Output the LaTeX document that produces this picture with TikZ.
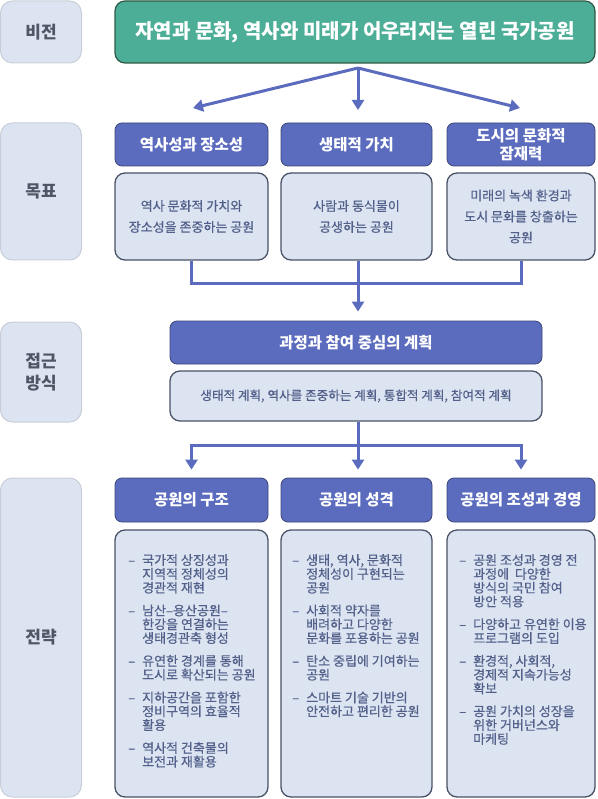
\documentclass[tikz,border=0pt]{standalone}
\usepackage{fontspec}
\setmainfont{Noto Sans CJK KR}
\newfontfamily\medfont{Noto Sans CJK KR}[FakeBold=0.6]
\usetikzlibrary{arrows.meta}
\definecolor{labfill}{HTML}{DDE4F1}
\definecolor{labdraw}{HTML}{C8CED9}
\definecolor{labtext}{HTML}{4F5666}
\definecolor{visfill}{HTML}{4DAE98}
\definecolor{visdraw}{HTML}{2E5A45}
\definecolor{hdfill}{HTML}{5B6BBD}
\definecolor{hddraw}{HTML}{3C477A}
\definecolor{ctfill}{HTML}{DCE4F2}
\definecolor{ctdraw}{HTML}{4A5268}
\definecolor{cttext}{HTML}{53618A}
\definecolor{arr}{HTML}{5B6BBD}
\newcommand{\dsh}{\makebox[14pt][l]{–}}
\newcommand{\ind}{\hspace*{14pt}}
\begin{document}
\begin{tikzpicture}[x=1pt,y=-1pt,
 labelbox/.style={draw=labdraw, line width=1pt, fill=labfill, rounded corners=12pt, minimum width=81pt, text=labtext, font=\fontsize{17}{22}\selectfont\bfseries, align=center, inner sep=0pt},
 visionbox/.style={draw=visdraw, line width=1.2pt, fill=visfill, rounded corners=10pt, text=white, font=\fontsize{20}{24}\selectfont\bfseries, inner sep=0pt},
 headbox/.style={draw=hddraw, line width=0.8pt, fill=hdfill, rounded corners=7pt, text=white, font=\fontsize{15.5}{18}\selectfont\bfseries, align=center, inner sep=0pt},
 contbox/.style={draw=ctdraw, line width=1.3pt, fill=ctfill, rounded corners=10pt, text=cttext, font=\medfont\fontsize{13}{21}\selectfont, align=center, inner sep=0pt},
 flow/.style={draw=arr, line width=3pt},
 flowarrow/.style={flow, -{Triangle[length=10pt,width=12pt]}},
 bullets/.style={text=cttext, font=\medfont\fontsize{13}{13.8}\selectfont, anchor=north west, inner sep=0pt, align=left}
]
\useasboundingbox (0,0) rectangle (597,799);

% labels
\node[labelbox, minimum height=62pt] (lab1) at (41,32) {비전};
\node[labelbox, minimum height=137pt] (lab2) at (41,191.5) {목표};
\node[labelbox, minimum height=100pt] (lab3) at (41,372) {접근\\방식};
\node[labelbox, minimum height=319pt] (lab4) at (41,637.5) {전략};

% vision
\node[visionbox, minimum width=480pt, minimum height=62pt] (vision) at (355,32) {자연과 문화, 역사와 미래가 어우러지는 열린 국가공원};

% goals
\node[headbox, minimum width=153pt, minimum height=43pt] (h1) at (191.5,144.5) {역사성과 장소성};
\node[headbox, minimum width=151pt, minimum height=43pt] (h2) at (356.5,144.5) {생태적 가치};
\node[headbox, minimum width=148pt, minimum height=43pt] (h3) at (521,144.5) {도시의 문화적\\잠재력};
\node[contbox, minimum width=153pt, minimum height=87pt] (c1) at (191.5,216.5) {역사 문화적 가치와\\장소성을 존중하는 공원};
\node[contbox, minimum width=151pt, minimum height=87pt] (c2) at (356.5,216.5) {사람과 동식물이\\공생하는 공원};
\node[contbox, minimum width=148pt, minimum height=87pt] (c3) at (521,216.5) {미래의 녹색 환경과\\도시 문화를 창출하는\\공원};

% approach
\node[headbox, minimum width=372pt, minimum height=43pt] (ah) at (356,342.5) {과정과 참여 중심의 계획};
\node[contbox, minimum width=372pt, minimum height=50pt, font=\medfont\fontsize{12.6}{21}\selectfont] (ac) at (356,396) {생태적 계획, 역사를 존중하는 계획, 통합적 계획, 참여적 계획};

% strategy
\node[headbox, minimum width=153pt, minimum height=44pt] (s1) at (191.5,500) {공원의 구조};
\node[headbox, minimum width=151pt, minimum height=44pt] (s2) at (356.5,500) {공원의 성격};
\node[headbox, minimum width=148pt, minimum height=44pt] (s3) at (521,500) {공원의 조성과 경영};
\node[contbox, minimum width=153pt, minimum height=267pt] (sc1) at (191.5,663.5) {};
\node[contbox, minimum width=151pt, minimum height=267pt] (sc2) at (356.5,663.5) {};
\node[contbox, minimum width=148pt, minimum height=267pt] (sc3) at (521,663.5) {};

\node[bullets] (l1) at (128,554) {%
\dsh 국가적 상징성과\\ \ind 지역적 정체성의\\ \ind 경관적 재현\\[9pt]
\dsh 남산–용산공원–\\ \ind 한강을 연결하는\\ \ind 생태경관축 형성\\[9pt]
\dsh 유연한 경계를 통해\\ \ind 도시로 확산되는 공원\\[9pt]
\dsh 지하공간을 포함한\\ \ind 정비구역의 효율적\\ \ind 활용\\[9pt]
\dsh 역사적 건축물의\\ \ind 보전과 재활용};
\node[bullets] (l2) at (292,554) {%
\dsh 생태, 역사, 문화적\\ \ind 정체성이 구현되는\\ \ind 공원\\[9pt]
\dsh 사회적 약자를\\ \ind 배려하고 다양한\\ \ind 문화를 포용하는 공원\\[9pt]
\dsh 탄소 중립에 기여하는\\ \ind 공원\\[9pt]
\dsh 스마트 기술 기반의\\ \ind 안전하고 편리한 공원};
\node[bullets] (l3) at (459,554) {%
\dsh 공원 조성과 경영 전\\ \ind 과정에 \ 다양한\\ \ind 방식의 국민 참여\\ \ind 방안 적용\\[9pt]
\dsh 다양하고 유연한 이용\\ \ind 프로그램의 도입\\[9pt]
\dsh 환경적, 사회적,\\ \ind 경제적 지속가능성\\ \ind 확보\\[9pt]
\dsh 공원 가치의 성장을\\ \ind 위한 거버넌스와\\ \ind 마케팅};

% connectors
\coordinate (vs) at (358,68);
\coordinate (t1) at (193,108);
\coordinate (t2) at (358,110);
\coordinate (t3) at (520,108);
\draw[flowarrow] (vs) -- (t1);
\draw[flowarrow] (vs) -- (t2);
\draw[flowarrow] (vs) -- (t3);

\coordinate (bj) at (358,283);
\draw[flow] (c1.south) |- (bj) -| (c3.south);
\draw[flowarrow, shorten >=9pt] (c2.south -| bj) -- (ah.north -| bj);

\coordinate (tj) at (358,445);
\draw[flowarrow, shorten >=8pt] (tj) -| (s1.north);
\draw[flowarrow, shorten >=8pt] (tj) -| (s3.north);
\draw[flowarrow, shorten >=8pt] (ac.south -| tj) -- (s2.north -| tj);
\end{tikzpicture}
\end{document}
